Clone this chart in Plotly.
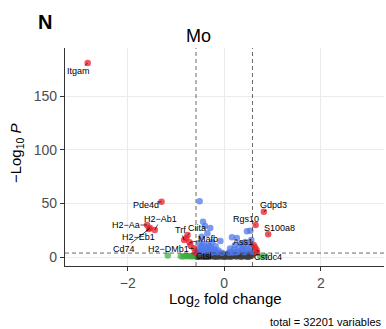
import plotly.graph_objects as go

# ---------------- data ----------------
# labelled genes (significant, |log2FC| > cutoff)
lab_genes = ["Itgam", "Pde4d", "H2-Aa", "H2-Ab1", "H2-Eb1", "Cd74", "Trf", "Ciita",
             "Mafb", "H2-DMb1", "Ctsl", "Gdpd3", "Rgs10", "S100a8", "Ass1", "Cstdc4"]
lab_x = [-2.83, -1.30, -1.60, -1.44, -1.54, -1.56, -0.83, -0.76,
         -0.72, -0.625, -0.60, 0.82, 0.65, 0.91, 0.61, 0.67]
lab_y = [181.3, 51.7, 29.9, 25.2, 27.1, 26.2, 15.9, 20.6,
         13.7, 8.1, 4.2, 42.3, 29.9, 21.2, 11.2, 6.5]
lab_text = ["Itgam", "Pde4d", "H2\u2212Aa", "H2\u2212Ab1", "H2\u2212Eb1", "Cd74", "Trf", "Ciita",
            "Mafb", "H2\u2212DMb1", "Ctsl", "Gdpd3", "Rgs10", "S100a8", "Ass1", "Cstdc4"]

# other significant & large FC (red, unlabelled)
red_x = [-0.79, -0.70, 0.68, 0.64]
red_y = [17.5, 11.0, 4.0, 9.0]

# significant, small FC (blue)
blue_x = [-0.51, -0.44, -0.40, -0.29, -0.35, -0.47, -0.08, -0.25, -0.52, -0.42,
          -0.33, -0.18, -0.48, -0.38, -0.28, -0.55, -0.20, -0.12, -0.45, -0.32,
          -0.50, -0.40, -0.25, -0.15, -0.05, -0.56, -0.36, -0.22, -0.30, -0.46,
          0.47, 0.54, 0.16, 0.26, 0.56, 0.44, 0.35, 0.50, 0.22, 0.40,
          0.30, 0.55, 0.12, 0.45, 0.20, 0.35, 0.50, 0.14, 0.28, 0.42,
          0.18, 0.10, 0.57, 0.25, 0.38]
blue_y = [52, 33, 29, 27, 22, 19, 15, 14, 13, 12,
          11, 10, 9, 8, 8.5, 7.5, 7, 6, 6, 5.5,
          5, 4.5, 4.2, 4.5, 4, 4.5, 6.5, 5, 10, 10.5,
          24, 24.5, 18.4, 17.7, 16, 14, 12.5, 12, 11, 10,
          9, 9, 8, 7.5, 7, 6, 6, 5, 5, 4.5,
          4.2, 4, 5, 4.5, 7.8]

# large FC, not significant (green)
green_x = [-1.17, -0.90, -0.85, -0.80, -0.76, -0.72, -0.68, -0.65, -0.62, 0.85, 0.75]
green_y = [1.5, 0.8, 0.5, 1.0, 0.6, 0.9, 0.4, 1.2, 0.7, 0.8, 0.4]

# not significant (grey)
ns_x = [-0.58, -0.55, -0.52, -0.50, -0.47, -0.45, -0.42, -0.40, -0.37, -0.35,
        -0.32, -0.30, -0.27, -0.25, -0.22, -0.20, -0.17, -0.15, -0.12, -0.10,
        -0.07, -0.05, -0.02, 0.00, 0.02, 0.05, 0.07, 0.10, 0.12, 0.15,
        0.17, 0.20, 0.22, 0.25, 0.27, 0.30, 0.32, 0.35, 0.37, 0.40,
        0.42, 0.45, 0.47, 0.50, 0.52, 0.55, 0.57, -0.48, -0.33, -0.18,
        -0.03, 0.08, 0.23, 0.38, 0.53, -0.56, -0.38, -0.13, 0.13, 0.33, 0.48]
ns_y = [1.0, 2.5, 0.5, 3.0, 1.5, 0.2, 2.0, 0.8, 3.2, 1.2,
        0.3, 2.2, 1.0, 2.8, 0.5, 1.8, 0.2, 2.5, 1.0, 0.4,
        1.6, 0.6, 0.9, 0.3, 1.1, 0.5, 2.0, 1.2, 0.3, 2.6,
        0.8, 1.5, 3.0, 0.4, 2.0, 1.0, 2.8, 0.3, 1.6, 2.4,
        0.6, 3.1, 1.2, 2.0, 0.5, 2.7, 1.3, 2.0, 3.3, 3.0,
        2.9, 3.2, 1.9, 3.3, 3.2, 0.3, 0.2, 3.0, 2.4, 3.4, 0.2]

x_ticks = [-2, 0, 2]
y_ticks = [0, 50, 100, 150]
fc_cut = 0.585
p_cut = 3.7

# label offsets (pixels): text centre relative to point
lab_dx = [-9, -16, -21, 6, -11, -25, -4, 9, 18, -26, 9, 10, -10, 11, -11, 11]
lab_dy = [8, 3, 0, -11, 9, 20, -10, -7, -3, 1, 3, -7, -6, -6, -3, 7]

# ---------------- figure ----------------
FONT = "Liberation Sans, Arial, Helvetica, sans-serif"
fig = go.Figure()

mk = dict(size=6.5, line=dict(width=0))
fig.add_trace(go.Scatter(x=ns_x, y=ns_y, mode="markers",
                         marker=dict(color="rgba(60,60,60,0.85)", **mk), showlegend=False))
fig.add_trace(go.Scatter(x=green_x, y=green_y, mode="markers",
                         marker=dict(color="rgba(60,170,60,0.7)", **mk), showlegend=False))
fig.add_trace(go.Scatter(x=blue_x, y=blue_y, mode="markers",
                         marker=dict(color="rgba(80,120,235,0.75)", **mk), showlegend=False))
fig.add_trace(go.Scatter(x=red_x + lab_x, y=red_y + lab_y, mode="markers",
                         marker=dict(color="rgba(235,30,40,0.75)", **mk), showlegend=False))

for xv in (-fc_cut, fc_cut):
    fig.add_shape(type="line", x0=xv, x1=xv, xref="x", y0=0, y1=1, yref="paper",
                  line=dict(color="#444", width=0.8, dash="4px,3px"))
fig.add_shape(type="line", x0=0, x1=1, xref="paper", y0=p_cut, y1=p_cut, yref="y",
              line=dict(color="#444", width=0.8, dash="4px,3px"))

for t, xv, yv, dx, dy in zip(lab_text, lab_x, lab_y, lab_dx, lab_dy):
    fig.add_annotation(x=xv, y=yv, xref="x", yref="y", text=t, showarrow=True,
                       ax=dx, ay=dy, arrowhead=0, arrowwidth=0.7, arrowcolor="black",
                       standoff=0, font=dict(family=FONT, size=9, color="black"),
                       borderpad=0)

# titles
fig.add_annotation(x=0.42, y=1.055, xref="paper", yref="paper", text="Mo", showarrow=False,
                   font=dict(family=FONT, size=18, color="black"), xanchor="center", yanchor="middle")
fig.add_annotation(x=-0.0627, y=1.117, xref="paper", yref="paper", text="<b>N</b>", showarrow=False,
                   font=dict(family=FONT, size=20, color="black"), xanchor="center", yanchor="middle")
fig.add_annotation(x=-0.1536, y=0.518, xref="paper", yref="paper",
                   text="\u2212Log<sub>10</sub> <i>P</i>", showarrow=False, textangle=-90,
                   font=dict(family=FONT, size=15, color="black"), xanchor="center", yanchor="middle")
fig.add_annotation(x=0.503, y=-0.153, xref="paper", yref="paper",
                   text="Log<sub>2</sub> fold change", showarrow=False,
                   font=dict(family=FONT, size=15, color="black"), xanchor="center", yanchor="middle")
fig.add_annotation(x=0.997, y=-0.2555, xref="paper", yref="paper",
                   text="total = 32201 variables", showarrow=False,
                   font=dict(family=FONT, size=11, color="black"), xanchor="right", yanchor="middle")

axis_common = dict(showgrid=True, gridcolor="#ebebeb", gridwidth=1, zeroline=False,
                   showline=True, linecolor="#333", linewidth=1.3, ticks="outside",
                   ticklen=4, tickwidth=1.2, tickcolor="#333",
                   tickfont=dict(family=FONT, size=14, color="#4d4d4d"))
fig.update_xaxes(range=[-3.3, 3.31], tickvals=x_ticks,
                 ticktext=[("\u2212" + str(-v)) if v < 0 else str(v) for v in x_ticks],
                 **axis_common)
fig.update_yaxes(range=[-8.4, 195.3], tickvals=y_ticks, **axis_common)

fig.update_layout(width=386, height=329, margin=dict(l=65, r=2, t=48, b=63),
                  plot_bgcolor="white", paper_bgcolor="white", showlegend=False,
                  font=dict(family=FONT))

fig.write_html("out.html", config={"displayModeBar": False},
               post_script="document.body.style.margin='0';document.body.style.overflow='hidden';")
